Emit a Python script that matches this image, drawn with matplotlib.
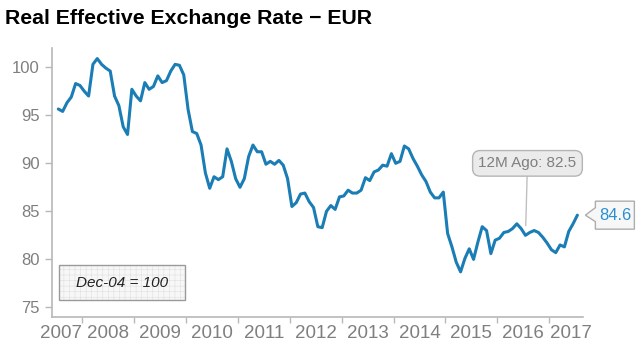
import matplotlib
matplotlib.use('Agg')
import matplotlib.pyplot as plt
import matplotlib.transforms as mtransforms
from matplotlib.patches import Polygon, Rectangle
import numpy as np

plt.rcParams['font.family'] = ['Liberation Sans', 'DejaVu Sans']
plt.rcParams['hatch.linewidth'] = 0.4

# monthly index, Jul 2007 .. Jul 2017
start_year, start_month = 2007, 7
reer = [95.65, 95.4, 96.3, 96.9, 98.3, 98.1, 97.5, 97.0, 100.3, 100.9,
        100.3, 99.9, 99.6, 97.0, 96.0, 93.8, 93.0, 97.7, 97.0, 96.5,
        98.4, 97.7, 98.0, 99.1, 98.4, 98.6, 99.6, 100.3, 100.2, 99.2,
        95.6, 93.3, 93.1, 91.9, 89.0, 87.4, 88.6, 88.3, 88.6, 91.5,
        90.2, 88.4, 87.5, 88.4, 90.7, 91.9, 91.2, 91.2, 89.9, 90.2,
        89.9, 90.3, 89.8, 88.4, 85.5, 85.9, 86.8, 86.9, 86.0, 85.4,
        83.4, 83.3, 85.0, 85.6, 85.2, 86.5, 86.6, 87.2, 86.9, 86.9,
        87.2, 88.5, 88.2, 89.1, 89.3, 89.8, 89.7, 91.0, 90.0, 90.2,
        91.8, 91.5, 90.5, 89.7, 88.8, 88.1, 87.0, 86.4, 86.4, 87.0,
        82.7, 81.3, 79.7, 78.7, 80.1, 81.1, 80.0, 81.8, 83.4, 83.0,
        80.6, 82.0, 82.2, 82.8, 82.9, 83.2, 83.7, 83.2, 82.5, 82.8,
        83.0, 82.8, 82.3, 81.7, 81.0, 80.7, 81.5, 81.3, 82.9, 83.7,
        84.6]
year_labels = ['2007', '2008', '2009', '2010', '2011', '2012',
               '2013', '2014', '2015', '2016', '2017']
y_ticks = [75, 80, 85, 90, 95, 100]
base_note = 'Dec-04 = 100'

t = start_year + (start_month - 0.5 + np.arange(len(reer))) / 12.0
last_t, last_v = t[-1], reer[-1]
ago_t, ago_v = t[-13], reer[-13]

blue = '#1a7db5'
grey_txt = '#7f7f7f'
grey_line = '#b8b8b8'

fig = plt.figure(figsize=(6.4, 3.6), dpi=100)
ax = fig.add_axes([52 / 640, 1 - 317 / 360, 531 / 640, 269 / 360])

ax.plot(t, reer, color=blue, lw=2.2, solid_capstyle='round', solid_joinstyle='round')

xmin, xmax = 2007.42, 2017.65
ax.set_xlim(xmin, xmax)
ax.set_ylim(74.0, 102.0)

for s in ['top', 'right']:
    ax.spines[s].set_visible(False)
for s in ['left', 'bottom']:
    ax.spines[s].set_color(grey_line)
    ax.spines[s].set_linewidth(1.2)

ax.set_yticks(y_ticks)
ax.set_yticklabels([str(v) for v in y_ticks])
ax.tick_params(axis='y', length=5, width=1, color=grey_line, pad=4,
               labelsize=12, labelcolor=grey_txt)

years = np.array([int(y) for y in year_labels])
ax.set_xticks(years[1:])
ax.set_xticklabels([])
ax.tick_params(axis='x', which='major', length=4, width=1, color=grey_line)
label_pos = np.clip(years + 0.5, xmin + 0.18, xmax - 0.24)
ax.set_xticks(label_pos, minor=True)
ax.set_xticklabels(year_labels, minor=True)
ax.tick_params(axis='x', which='minor', length=0, pad=6,
               labelsize=13.5, labelcolor=grey_txt)

fig.text(5 / 640, 1 - 19 / 360, 'Real Effective Exchange Rate \u2212 EUR',
         fontsize=15.3, fontweight='bold', va='center', ha='left')

# base note box: faint grid fill, then the border on top
box_xy = (59 / 640, 1 - 300 / 360)
box_w, box_h = 126 / 640, 35 / 360
fig.patches.append(Rectangle(box_xy, box_w, box_h, transform=fig.transFigure,
                             facecolor='#f7f7f7', edgecolor='#e0e0e0', lw=0,
                             hatch='+++'))
fig.patches.append(Rectangle(box_xy, box_w, box_h, transform=fig.transFigure,
                             facecolor='none', edgecolor='#9a9a9a', lw=1.0))
fig.text(122 / 640, 1 - 283 / 360, base_note, fontsize=11, style='italic',
         ha='center', va='center', color='#222222')

# 12M ago callout
ax.annotate(f'12M Ago: {ago_v}', xy=(ago_t, ago_v), xytext=(2, 72),
            textcoords='offset pixels', ha='center', va='center',
            fontsize=11, color=grey_txt,
            bbox=dict(boxstyle='round,pad=0.38,rounding_size=0.5',
                      fc='#ebebeb', ec='#b5b5b5', lw=1.0),
            arrowprops=dict(arrowstyle='-', color='#c0c0c0', lw=1.0,
                            shrinkA=0, shrinkB=7))

# last value tag, drawn in inches relative to last point
trans = fig.dpi_scale_trans + mtransforms.ScaledTranslation(last_t, last_v, ax.transData)
tag = Polygon([(0.08, 0.0), (0.18, 0.075), (0.18, 0.14), (0.57, 0.14),
               (0.57, -0.14), (0.18, -0.14), (0.18, -0.065)],
              closed=True, transform=trans, facecolor='#f7f7f7',
              edgecolor='#adadad', lw=1.0, clip_on=False)
ax.add_patch(tag)
ax.text(0.375, 0.0, f'{last_v}', transform=trans, ha='center', va='center',
        fontsize=12, color='#2a8fd0', clip_on=False)

plt.savefig('out.png', dpi=100)
